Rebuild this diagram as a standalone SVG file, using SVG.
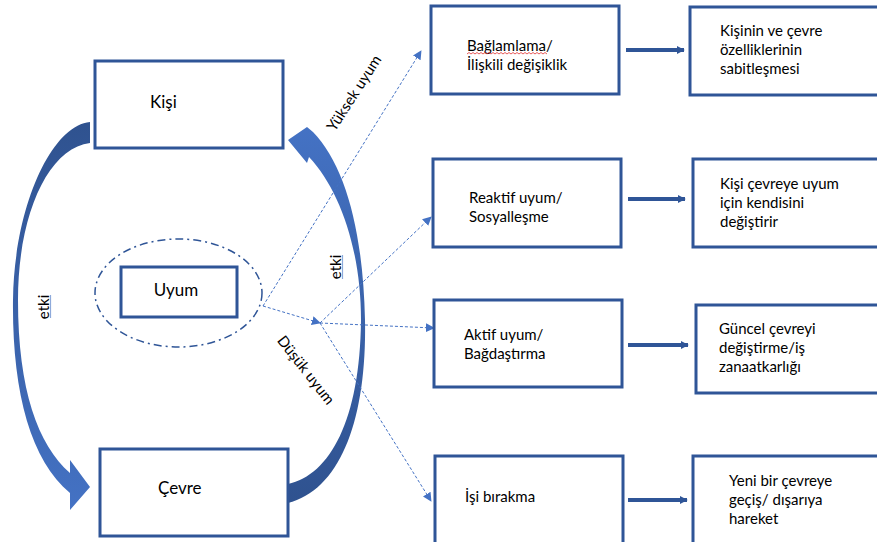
<svg xmlns="http://www.w3.org/2000/svg" width="877" height="542" viewBox="0 0 877 542">
<style>
.box{fill:#fff;stroke:#2F5597;stroke-width:3}
.t{font-family:Lato,"Liberation Sans",sans-serif;font-size:15px;fill:#000}
.big{font-size:17px}
.dash{fill:none;stroke:#4472C4;stroke-width:1;stroke-dasharray:3 2}
.thick{fill:none;stroke:#2F5597;stroke-width:4}
</style>
<defs>
<marker id="da" viewBox="0 0 10 10" refX="9" refY="5" markerWidth="9" markerHeight="9" markerUnits="userSpaceOnUse" orient="auto"><path d="M0,0 L10,5 L0,10 Z" fill="#4472C4"/></marker>
<marker id="ta" viewBox="0 0 10 10" refX="9" refY="5" markerWidth="2" markerHeight="2.2" orient="auto"><path d="M0,0 L10,5 L0,10 Z" fill="#2F5597"/></marker>
<linearGradient id="gl" x1="0" y1="0" x2="0" y2="1"><stop offset="0" stop-color="#2F528F"/><stop offset="1" stop-color="#4472C4"/></linearGradient>
<linearGradient id="gr" x1="0" y1="1" x2="0" y2="0"><stop offset="0" stop-color="#2F528F"/><stop offset="1" stop-color="#4472C4"/></linearGradient>
</defs>
<rect width="877" height="542" fill="#fff"/>
<g id="connectors">
<path id="arrow-left" d="M90,122 C50,126 14,210 13,300 C12,390 30,460 70,493 L70,510 L90,487 L70,460 L70,473 C38,445 18,390 18,300 C18,215 48,148 90,143 Z" fill="url(#gl)"/>
<path id="arrow-right" d="M288,503 C340,490 367,420 365,320 C363,230 345,165 313,132 L307,127 L288,140 L307,163 L309,157 C340,190 361,250 361,320 C360,420 330,475 288,484 Z" fill="url(#gr)"/>
<path class="dash" d="M263,306 L421,51" marker-end="url(#da)"/>
<path class="dash" d="M263,306 L320,323" marker-end="url(#da)"/>
<path class="dash" d="M320,323 L431,217" marker-end="url(#da)"/>
<path class="dash" d="M320,323 L434,328" marker-end="url(#da)"/>
<path class="dash" d="M320,323 L431,501" marker-end="url(#da)"/>
<path class="thick" d="M626,50 L684,50" marker-end="url(#ta)"/>
<path class="thick" d="M628,199 L685,199" marker-end="url(#ta)"/>
<path class="thick" d="M628,345 L688,345" marker-end="url(#ta)"/>
<path class="thick" d="M628,500 L687,500" marker-end="url(#ta)"/>
</g>
<g id="labels">
<text class="t" text-anchor="middle" dy="0.35em" transform="translate(44,307) rotate(-90)">etki</text>
<line x1="50.5" y1="295" x2="50.5" y2="318" stroke="#8EAADB" stroke-width="1.2"/>
<text class="t" text-anchor="middle" dy="0.35em" transform="translate(336,267) rotate(-90)">etki</text>
<line x1="342.5" y1="255" x2="342.5" y2="279" stroke="#8EAADB" stroke-width="1.2"/>
<text class="t" text-anchor="middle" dy="0.35em" transform="translate(354,93) rotate(-57)">Yüksek uyum</text>
<text class="t" text-anchor="middle" dy="0.35em" transform="translate(306,370) rotate(52)">Düşük uyum</text>
</g>
<g id="kisi"><rect class="box" x="95" y="61" width="188" height="87"/><text class="t big" x="150" y="108">Kişi</text></g>
<g id="uyum">
<ellipse cx="178.5" cy="293" rx="83.5" ry="54" fill="none" stroke="#2F5597" stroke-width="1.5" stroke-dasharray="8 4 2 4"/>
<rect class="box" x="121" y="267" width="116" height="50"/><text class="t big" x="176" y="296" text-anchor="middle">Uyum</text></g>
<g id="cevre"><rect class="box" x="100" y="449" width="188" height="87"/><text class="t big" x="158" y="494">Çevre</text></g>
<g id="baglamlama"><rect class="box" x="431" y="6" width="188" height="88"/>
<text class="t" x="467" y="51">Bağlamlama/</text><text class="t" x="467" y="70">İlişkili değişiklik</text>
<path d="M467,54 l2,-1.5 l2,1.5 l2,-1.5 l2,1.5 l2,-1.5 l2,1.5 l2,-1.5 l2,1.5 l2,-1.5 l2,1.5 l2,-1.5 l2,1.5 l2,-1.5 l2,1.5 l2,-1.5 l2,1.5 l2,-1.5 l2,1.5 l2,-1.5 l2,1.5 l2,-1.5 l2,1.5 l2,-1.5 l2,1.5 l2,-1.5 l2,1.5 l2,-1.5 l2,1.5 l2,-1.5 l2,1.5 l2,-1.5 l2,1.5 l2,-1.5 l2,1.5 l2,-1.5 l2,1.5 l2,-1.5 l2,1.5 l2,-1.5 l2,1.5" fill="none" stroke="#E03030" stroke-width="0.8"/>
</g>
<g id="sabitlesme"><rect class="box" x="690" y="7" width="200" height="88"/>
<text class="t" x="720" y="36">Kişinin ve çevre</text><text class="t" x="720" y="55">özelliklerinin</text><text class="t" x="720" y="74">sabitleşmesi</text></g>
<g id="reaktif"><rect class="box" x="433" y="159" width="188" height="88"/>
<text class="t" x="469" y="203">Reaktif uyum/</text><text class="t" x="469" y="222">Sosyalleşme</text></g>
<g id="kendisini"><rect class="box" x="693" y="159" width="200" height="88"/>
<text class="t" x="720" y="189">Kişi çevreye uyum</text><text class="t" x="720" y="208">için kendisini</text><text class="t" x="720" y="227">değiştirir</text></g>
<g id="aktif"><rect class="box" x="434" y="300" width="188" height="87"/>
<text class="t" x="464" y="340">Aktif uyum/</text><text class="t" x="464" y="359">Bağdaştırma</text></g>
<g id="guncel"><rect class="box" x="696" y="305" width="200" height="88"/>
<text class="t" x="719" y="334">Güncel çevreyi</text><text class="t" x="719" y="353">değiştirme/iş</text><text class="t" x="719" y="372">zanaatkarlığı</text></g>
<g id="isi"><rect class="box" x="435" y="456" width="188" height="90"/>
<text class="t" x="465" y="502">İşi bırakma</text></g>
<g id="yeni"><rect class="box" x="693" y="456" width="200" height="90"/>
<text class="t" x="729" y="486">Yeni bir çevreye</text><text class="t" x="729" y="505">geçiş/ dışarıya</text><text class="t" x="729" y="524">hareket</text></g>
</svg>
